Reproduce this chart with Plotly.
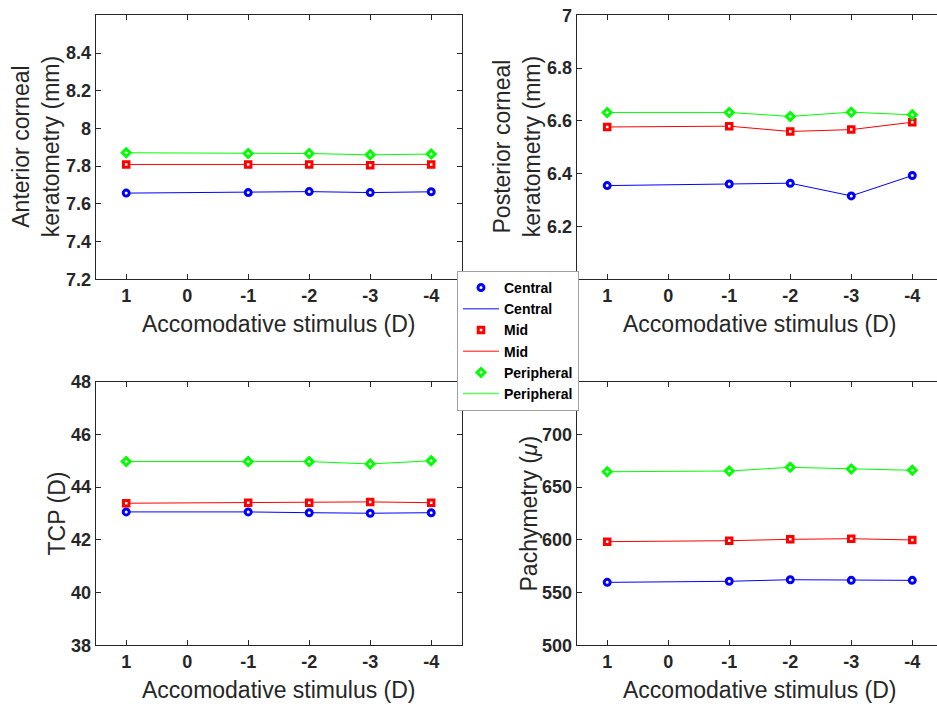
import plotly.graph_objects as go

# ---------------- data ----------------
x_vals = [1, -1, -2, -3, -4]
x_tick_vals = [1, 0, -1, -2, -3, -4]
x_tick_text = ["1", "0", "-1", "-2", "-3", "-4"]

ant_central = [7.657, 7.660, 7.665, 7.660, 7.664]
ant_mid = [7.809, 7.809, 7.809, 7.805, 7.809]
ant_peripheral = [7.871, 7.867, 7.867, 7.860, 7.864]

post_central = [6.355, 6.361, 6.364, 6.316, 6.393]
post_mid = [6.577, 6.580, 6.560, 6.567, 6.595]
post_peripheral = [6.632, 6.632, 6.617, 6.633, 6.623]

tcp_central = [43.06, 43.06, 43.03, 43.01, 43.03]
tcp_mid = [43.39, 43.41, 43.41, 43.44, 43.41]
tcp_peripheral = [44.97, 44.97, 44.97, 44.88, 45.00]

pachy_central = [559.7, 560.7, 562.2, 561.6, 561.6]
pachy_mid = [598.3, 599.2, 600.5, 601.1, 599.9]
pachy_peripheral = [664.6, 665.3, 668.8, 667.2, 666.0]

series_names = ["Central", "Mid", "Peripheral"]
series_colors = ["#0000ff", "#ff0000", "#00ff00"]
series_symbols = ["circle", "square", "diamond"]
series_sizes = [6, 5.5, 6]

ant_ticks = [7.2, 7.4, 7.6, 7.8, 8.0, 8.2, 8.4]
ant_ticktext = ["7.2", "7.4", "7.6", "7.8", "8", "8.2", "8.4"]
post_ticks = [6.2, 6.4, 6.6, 6.8, 7.0]          # "6" is hidden by the legend
post_ticktext = ["6.2", "6.4", "6.6", "6.8", "7"]
tcp_ticks = [38, 40, 42, 44, 46, 48]
pachy_ticks = [500, 550, 600, 650, 700]          # "750" is hidden by the legend

panels = [
    dict(data=[ant_central, ant_mid, ant_peripheral], yrange=[7.2, 8.6],
         yt=ant_ticks, ytt=ant_ticktext,
         title="Anterior corneal<br>keratometry (mm)"),
    dict(data=[post_central, post_mid, post_peripheral], yrange=[6.0, 7.0],
         yt=post_ticks, ytt=post_ticktext,
         title="Posterior corneal<br>keratometry (mm)"),
    dict(data=[tcp_central, tcp_mid, tcp_peripheral], yrange=[38, 48],
         yt=tcp_ticks, ytt=[str(v) for v in tcp_ticks], title="TCP (D)"),
    dict(data=[pachy_central, pachy_mid, pachy_peripheral], yrange=[500, 750],
         yt=pachy_ticks, ytt=[str(v) for v in pachy_ticks],
         title="Pachymetry (<i>μ</i>)"),
]

# ---------------- layout geometry (pixels) ----------------
W, H = 937, 704
FONT = "Liberation Sans"
AX = "#262626"

col_x = [(95.7, 461.7), (576.7, 937.0)]
col_center = [278.7, 759.7]
row_y = [(15.3, 279.3), (381.7, 645.3)]
x_ranges = [[1.5, -4.5], [1.5, -4.405]]
ytitle_x = [[36, 517], [56, 528]]
xtitle_y = [324, 690]

fig = go.Figure()
layout = dict(
    width=W, height=H,
    margin=dict(l=0, r=0, t=0, b=0, autoexpand=False),
    paper_bgcolor="white", plot_bgcolor="white",
    font=dict(family=FONT, color=AX),
    annotations=[],
)

# legend entries (marker entry, then line entry, per series)
for k in range(3):
    fig.add_trace(go.Scatter(
        x=[None], y=[None], mode="markers", name=series_names[k],
        showlegend=True,
        marker=dict(symbol=series_symbols[k], color="white",
                    size=series_sizes[k],
                    line=dict(color=series_colors[k], width=3))))
    fig.add_trace(go.Scatter(
        x=[None], y=[None], mode="lines", name=series_names[k],
        showlegend=True, opacity=0.65,
        line=dict(color=series_colors[k], width=1.5)))

for i, p in enumerate(panels):
    r, c = divmod(i, 2)
    xa = "x" if i == 0 else f"x{i+1}"
    ya = "y" if i == 0 else f"y{i+1}"
    xkey = "xaxis" if i == 0 else f"xaxis{i+1}"
    ykey = "yaxis" if i == 0 else f"yaxis{i+1}"
    x0, x1 = col_x[c]
    y0, y1 = row_y[r]
    layout[xkey] = dict(
        domain=[x0 / W, x1 / W], anchor=ya, range=x_ranges[c],
        tickmode="array", tickvals=x_tick_vals, ticktext=x_tick_text,
        ticks="inside", ticklen=5, tickcolor=AX, tickwidth=1,
        showline=True, linecolor=AX, linewidth=1, mirror="ticks",
        showgrid=False, zeroline=False, automargin=False,
        tickfont=dict(family=FONT, size=18, color=AX, weight="bold"),
    )
    layout[ykey] = dict(
        domain=[1 - y1 / H, 1 - y0 / H], anchor=xa, range=p["yrange"],
        tickmode="array", tickvals=p["yt"], ticktext=p["ytt"],
        ticks="inside", ticklen=5, tickcolor=AX, tickwidth=1,
        showline=True, linecolor=AX, linewidth=1,
        mirror=("ticks" if c == 0 else False),
        showgrid=False, zeroline=False, automargin=False,
        tickfont=dict(family=FONT, size=18, color=AX, weight="bold"),
    )
    # axis titles
    layout["annotations"].append(dict(
        text="Accomodative stimulus (D)", xref="paper", yref="paper",
        x=col_center[c] / W, y=1 - xtitle_y[r] / H,
        xanchor="center", yanchor="middle",
        showarrow=False, font=dict(family=FONT, size=23, color=AX)))
    layout["annotations"].append(dict(
        text=p["title"], xref="paper", yref="paper",
        x=ytitle_x[r][c] / W, y=1 - ((y0 + y1) / 2) / H,
        xanchor="center", yanchor="middle", textangle=-90,
        showarrow=False, font=dict(family=FONT, size=23, color=AX)))

    for k in range(3):
        fig.add_trace(go.Scatter(
            x=x_vals, y=p["data"][k], mode="lines", xaxis=xa, yaxis=ya,
            name=series_names[k], showlegend=False,
            line=dict(color=series_colors[k], width=1)))
    for k in range(3):
        fig.add_trace(go.Scatter(
            x=x_vals, y=p["data"][k], mode="markers", xaxis=xa, yaxis=ya,
            name=series_names[k], showlegend=False,
            marker=dict(symbol=series_symbols[k], color="white",
                        size=series_sizes[k],
                        line=dict(color=series_colors[k], width=3))))

layout["legend"] = dict(
    x=457 / W, y=1 - 271 / H, xanchor="left", yanchor="top",
    bgcolor="white", bordercolor="#a0a0a0", borderwidth=1,
    font=dict(family=FONT, size=14, color="black", weight="bold"),
    tracegroupgap=0, itemwidth=36, traceorder="normal",
)
fig.update_layout(**layout)
fig.write_html("out.html")
